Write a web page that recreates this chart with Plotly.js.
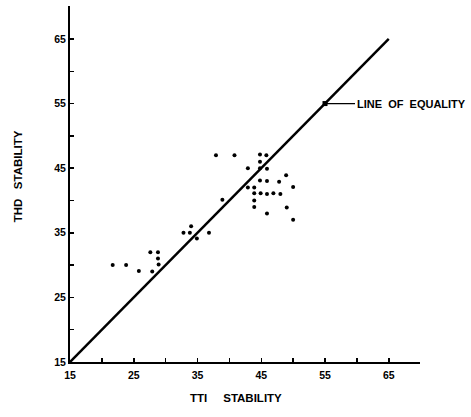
<!DOCTYPE html>
<html>
<head>
<meta charset="utf-8">
<script src="https://cdn.plot.ly/plotly-3.0.1.min.js"></script>
<style>html,body{margin:0;padding:0;background:#fff;}</style>
</head>
<body>
<div id="chart" style="width:471px;height:417px;"></div>
<script>
// TTI stability (x) vs THD stability (y)
var ttiStability = [21.7,23.8,25.8,27.9,27.6,28.8,28.8,28.9,32.8,33.8,34.0,34.9,36.8,38.9,37.9,40.8,44.8,45.8,44.8,42.9,44.8,45.9,48.9,44.8,45.9,47.8,42.9,43.9,50.0,43.9,44.9,45.9,46.9,48.0,43.9,43.9,49.0,45.9,50.0];
var thdStability = [30.0,30.0,29.1,29.0,32.0,32.0,31.0,30.1,35.0,35.0,36.0,34.1,35.0,40.1,47.0,47.0,47.1,47.0,46.0,45.0,45.0,44.9,43.9,43.1,43.0,42.9,42.0,42.0,42.1,41.1,41.1,41.0,41.1,41.0,40.0,39.0,38.9,38.0,37.0];
var equalityX = [15, 65];
var equalityY = [15, 65];
var labelPointX = [55];
var labelPointY = [55];
var tickVals = [15,20,25,30,35,40,45,50,55,60,65];
var tickText = ['15','','25','','35','','45','','55','','65'];

var fontFam = 'Liberation Sans, Arial, sans-serif';

var traces = [
  {x: equalityX, y: equalityY, mode: 'lines', line: {color: '#000', width: 2.5}, hoverinfo: 'skip'},
  {x: ttiStability, y: thdStability, mode: 'markers', marker: {color: '#000', size: 4}},
  {x: labelPointX, y: labelPointY, mode: 'markers', marker: {color: '#000', size: 5, symbol: 'square'}}
];

var axisCommon = {
  showgrid: false, zeroline: false, showline: true, linecolor: '#000', linewidth: 2,
  ticks: 'inside', ticklen: 4, tickwidth: 1.5, tickcolor: '#000',
  tickmode: 'array', tickvals: tickVals, ticktext: tickText,
  tickfont: {family: fontFam, size: 10.5, color: '#000', weight: 700},
  fixedrange: true
};

var layout = {
  width: 471, height: 417,
  margin: {l: 70, r: 51, t: 6, b: 55},
  paper_bgcolor: '#fff', plot_bgcolor: '#fff',
  showlegend: false,
  xaxis: Object.assign({}, axisCommon, {range: [15, 69.9], ticklabelstandoff: 2}),
  yaxis: Object.assign({}, axisCommon, {range: [15, 70.1]}),
  annotations: [
    {xref: 'paper', yref: 'paper', x: 0.473, y: -0.101, xanchor: 'center', yanchor: 'middle',
     text: 'TTI\u00a0\u00a0\u00a0\u00a0\u00a0STABILITY', showarrow: false,
     font: {family: fontFam, size: 11.5, color: '#000', weight: 700}},
    {xref: 'paper', yref: 'paper', x: -0.149, y: 0.521, xanchor: 'center', yanchor: 'middle',
     text: 'THD\u00a0\u00a0\u00a0STABILITY', showarrow: false, textangle: -90,
     font: {family: fontFam, size: 11.5, color: '#000', weight: 700}},
    {xref: 'x', yref: 'y', x: labelPointX[0], y: labelPointY[0], ax: 30, ay: 0,
     xanchor: 'left', yanchor: 'middle', showarrow: true, arrowhead: 0, arrowwidth: 1.3, arrowcolor: '#000',
     text: 'LINE\u00a0\u00a0OF\u00a0\u00a0EQUALITY',
     font: {family: fontFam, size: 11, color: '#000', weight: 700}}
  ]
};

Plotly.newPlot('chart', traces, layout, {staticPlot: true, displayModeBar: false});
</script>
</body>
</html>
